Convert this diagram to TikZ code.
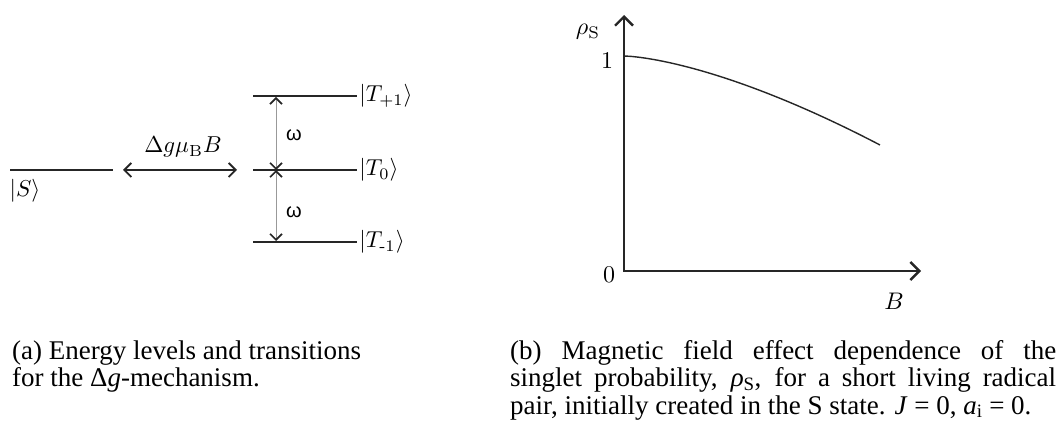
\documentclass[tikz,border=0pt]{standalone}
\usepackage{amsmath}
\usepackage{fontspec}
\newfontfamily\capfont{Liberation Serif}
\newfontfamily\omfont{Liberation Sans}
\usetikzlibrary{arrows.meta}
\begin{document}
\begin{tikzpicture}[x=1pt,y=-1pt,
  lbl/.style={scale=2.3, inner sep=0pt},
  plbl/.style={scale=2.4, inner sep=0pt},
  captxt/.style={font=\capfont\fontsize{27}{27}\selectfont, inner sep=0pt, anchor=base west},
  level/.style={line width=2.2pt, black!85},
  tlevel/.style={line width=2.8pt, black!85},
  dbl/.style={line width=1.8pt, black!85, {Straight Barb[length=7pt,width=14pt,line width=1.8pt]}-{Straight Barb[length=7pt,width=14pt,line width=1.8pt]}},
  varr/.style={line width=0.9pt, black!40, {Straight Barb[length=6pt,width=12pt,line width=1.6pt,color=black!85]}-{Straight Barb[length=6pt,width=12pt,line width=1.6pt,color=black!85]}},
  axis/.style={line width=2.8pt, black!85, line join=miter, {Straight Barb[length=9pt,width=18pt,line width=2.4pt]}-{Straight Barb[length=9pt,width=18pt,line width=2.4pt]}},
  curve/.style={line width=1.4pt, black!85}
]
\useasboundingbox (0,0) rectangle (1061,430);

% ---- (a) energy levels ----
\coordinate (S1) at (10,170);
\coordinate (S2) at (113,170);
\draw[level] (S1) -- (S2);
\node[lbl] (Slab) at (25,191) {$|S\rangle$};

\coordinate (dl) at (123,170);
\coordinate (dr) at (237,170);
\draw[dbl] (dl) -- (dr);
\node[lbl] (dglab) at (183,147) {$\Delta g\mu_{\mathrm{B}}B$};

\coordinate (Tp1) at (253,96);  \coordinate (Tp2) at (357,96);
\coordinate (T01) at (253,170); \coordinate (T02) at (357,170);
\coordinate (Tm1) at (253,242); \coordinate (Tm2) at (357,242);
\draw[tlevel] (Tp1) -- (Tp2);
\draw[level] (T01) -- (T02);
\draw[tlevel] (Tm1) -- (Tm2);
\node[lbl, anchor=west] (Tplab) at (359,96) {$|T_{+1}\rangle$};
\node[lbl, anchor=west] (T0lab) at (359,170) {$|T_{0}\rangle$};
\node[lbl, anchor=west] (Tmlab) at (359,242) {$|T_{\text{-}1}\rangle$};

\coordinate (ap) at (276,97);
\coordinate (a0) at (276,170);
\coordinate (am) at (276,241);
\draw[varr] (a0) -- (ap);
\draw[varr] (a0) -- (am);
\node[font=\omfont\fontsize{20}{24}\selectfont, inner sep=0pt] (om1) at (294,135) {ω};
\node[font=\omfont\fontsize{20}{24}\selectfont, inner sep=0pt] (om2) at (294,212) {ω};

% ---- (b) plot ----
\coordinate (O) at (624,271);
\coordinate (Ytop) at (624,15);
\coordinate (Xend) at (921,271);
\draw[axis] (Ytop) -- (O) -- (Xend);
\draw[curve] plot[domain=0:1, samples=40, smooth] ({624+256*\x},{56+89*\x*sqrt(\x)});
\node[plbl] (rho) at (588,32) {$\rho_{\mathrm{S}}$};
\node[plbl] (one) at (607,61) {$1$};
\node[plbl] (zero) at (609,275) {$0$};
\node[plbl] (Blab) at (894,301) {$B$};

% ---- captions ----
\node[captxt] (ca1) at (12,360) {(a) Energy levels and transitions};
\node[captxt] (ca2) at (12,387) {for the Δ\textit{g}-mechanism.};
\node[captxt] (cb1) at (510,360) {\makebox[546pt][s]{(b) Magnetic field effect dependence of the}};
\node[captxt] (cb2) at (510,387) {\makebox[546pt][s]{singlet probability, \textit{ρ}\textsubscript{S}, for a short living radical}};
\node[captxt] (cb3) at (510,414) {pair, initially created in the S state. \textit{J} = 0, \textit{a}\textsubscript{i} = 0.};
\end{tikzpicture}
\end{document}
